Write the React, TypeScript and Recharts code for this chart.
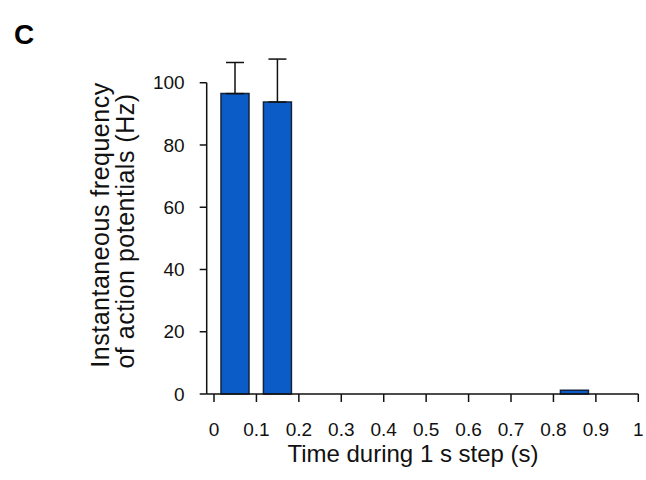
import React from 'react';
import { BarChart, Bar, XAxis, YAxis, ErrorBar, ReferenceLine, Label } from 'recharts';

// ---- data ----
const binCenters = [0.05, 0.15, 0.25, 0.35, 0.45, 0.55, 0.65, 0.75, 0.85, 0.95];
const frequencyHz = [96.5, 93.8, 0, 0, 0, 0, 0, 0, 1.2, 0];
const errorHz = [10.0, 13.8, 0, 0, 0, 0, 0, 0, 0, 0];
const xTicks = [0, 0.1, 0.2, 0.3, 0.4, 0.5, 0.6, 0.7, 0.8, 0.9, 1];
const xTickLabels = ['0', '0.1', '0.2', '0.3', '0.4', '0.5', '0.6', '0.7', '0.8', '0.9', '1'];
const yTicks = [0, 20, 40, 60, 80, 100];
const panelLetter = 'C';
const xTitle = 'Time during 1 s step (s)';
const yTitleLines = ['Instantaneous frequency', 'of action potentials (Hz)'];

const X_MIN = -0.0172;
const X_MAX = 1;
const Y_MAX_DOMAIN = 110;
const Y_AXIS_TOP = 100;

const data = binCenters.map((t, i) => ({
  t,
  freq: frequencyHz[i],
  err: errorHz[i] > 0 ? [0, errorHz[i]] : undefined,
}));

const FONT = '"Liberation Sans", Arial, Helvetica, sans-serif';
const BAR_FILL = '#0b5cc6';
const BAR_STROKE = '#13233d';

const YTitle = () => (
  <g>
    <text
      x={108.5}
      y={225}
      transform="rotate(-90, 108.5, 225)"
      textAnchor="middle"
      fontFamily={FONT}
      fontSize={25}
      letterSpacing={0.5}
      fill="#111"
    >
      {yTitleLines[0]}
    </text>
    <text
      x={133.5}
      y={231}
      transform="rotate(-90, 133.5, 231)"
      textAnchor="middle"
      fontFamily={FONT}
      fontSize={25}
      letterSpacing={0.5}
      fill="#111"
    >
      {yTitleLines[1]}
    </text>
  </g>
);

const XTitle = () => (
  <text x={413} y={462} textAnchor="middle" fontFamily={FONT} fontSize={24} fill="#111">
    {xTitle}
  </text>
);

export default function App() {
  return (
    <div style={{ position: 'absolute', left: 0, top: 0, width: 646, height: 480, background: '#fff' }}>
      <svg width={646} height={480} style={{ position: 'absolute', left: 0, top: 0 }}>
        <text x={14} y={44} fontFamily={FONT} fontWeight="bold" fontSize={28} fill="#000">
          {panelLetter}
        </text>
      </svg>
      <div style={{ position: 'absolute', left: 0, top: 0 }}>
        <BarChart
          width={646}
          height={480}
          data={data}
          margin={{ top: 51.6, right: 7.7, bottom: 34, left: 0 }}
        >
          <XAxis
            type="number"
            dataKey="t"
            domain={[X_MIN, X_MAX]}
            ticks={xTicks}
            tickFormatter={(v: number) => xTickLabels[xTicks.indexOf(v)] ?? String(v)}
            height={52}
            tickSize={8}
            tickMargin={20.5}
            axisLine={{ stroke: '#111', strokeWidth: 1.5 }}
            tickLine={{ stroke: '#111', strokeWidth: 1.5 }}
            tick={{ fill: '#111', fontSize: 19, fontFamily: FONT }}
            fontSize={19}
            interval={0}
          >
            <Label content={<XTitle />} />
          </XAxis>
          <YAxis
            type="number"
            domain={[0, Y_MAX_DOMAIN]}
            ticks={yTicks}
            width={206.7}
            tickSize={7}
            tickMargin={15}
            axisLine={false}
            tickLine={{ stroke: '#111', strokeWidth: 1.5 }}
            tick={{ fill: '#111', fontSize: 19, fontFamily: FONT }}
            fontSize={19}
            interval={0}
          >
            <Label content={<YTitle />} />
          </YAxis>
          <ReferenceLine
            segment={[
              { x: X_MIN, y: 0 },
              { x: X_MIN, y: Y_AXIS_TOP },
            ]}
            stroke="#111"
            strokeWidth={1.5}
            ifOverflow="visible"
          />
          <Bar
            dataKey="freq"
            barSize={28}
            fill={BAR_FILL}
            stroke={BAR_STROKE}
            strokeWidth={1.5}
            isAnimationActive={false}
          >
            <ErrorBar dataKey="err" direction="y" width={9} stroke="#111" strokeWidth={1.5} />
          </Bar>
        </BarChart>
      </div>
    </div>
  );
}
